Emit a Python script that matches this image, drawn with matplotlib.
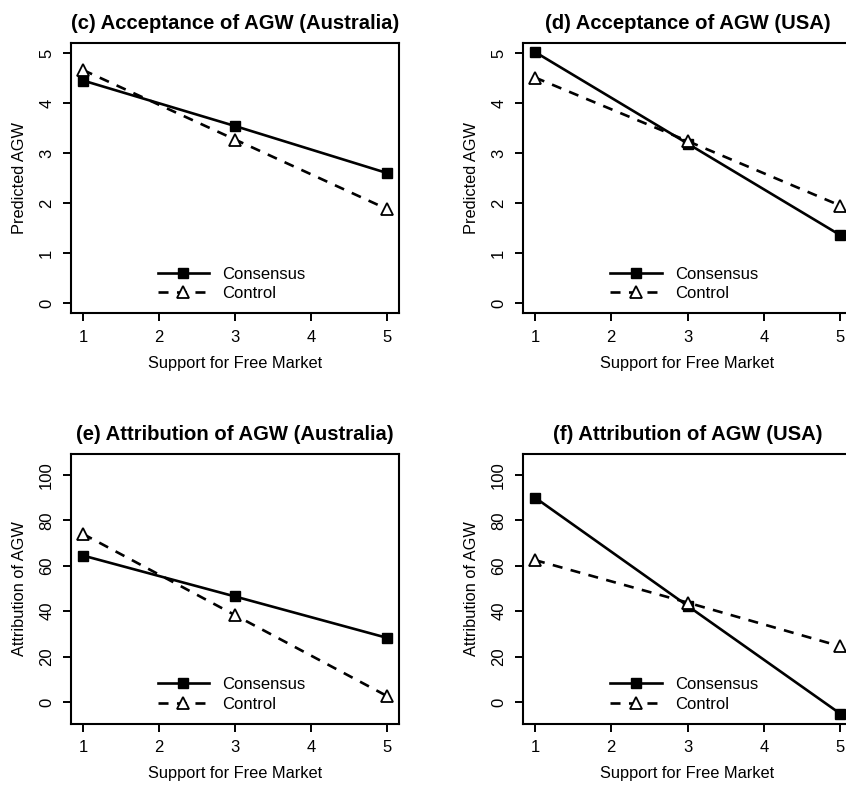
import matplotlib
matplotlib.use("Agg")
import matplotlib.pyplot as plt

plt.rcParams['font.family'] = ['Liberation Sans', 'DejaVu Sans']

x_vals = [1, 3, 5]
titles = ["(c) Acceptance of AGW (Australia)", "(d) Acceptance of AGW (USA)",
          "(e) Attribution of AGW (Australia)", "(f) Attribution of AGW (USA)"]
ylabels = ["Predicted AGW", "Predicted AGW", "Attribution of AGW", "Attribution of AGW"]
xlabel = "Support for Free Market"
series_names = ["Consensus", "Control"]

consensus_c = [4.45, 3.54, 2.60]
control_c = [4.66, 3.27, 1.88]
consensus_d = [5.02, 3.19, 1.36]
control_d = [4.51, 3.24, 1.95]
consensus_e = [64.5, 46.5, 28.3]
control_e = [74.0, 38.3, 2.7]
consensus_f = [90.0, 42.4, -5.0]
control_f = [62.5, 43.8, 24.6]

xticks = [1, 2, 3, 4, 5]
yticks_top = [0, 1, 2, 3, 4, 5]
yticks_bottom = [0, 20, 40, 60, 80, 100]

W, H = 846, 787
fig = plt.figure(figsize=(W / 100, H / 100), dpi=100)
fig.patch.set_facecolor('white')

def px_rect(left, top, right, bottom):
    return [left / W, (H - bottom) / H, (right - left) / W, (bottom - top) / H]

# axes boxes in pixels (left, top, right, bottom)
rects = [
    px_rect(70.8, 43, 399.1, 313),
    px_rect(522.8, 43, 852.2, 313),
    px_rect(70.8, 453.5, 399.1, 723.5),
    px_rect(522.8, 453.5, 852.2, 723.5),
]
data = [(consensus_c, control_c), (consensus_d, control_d),
        (consensus_e, control_e), (consensus_f, control_f)]
ylims = [(-0.2, 5.2), (-0.2, 5.2), (-9.4, 109.4), (-9.4, 109.4)]
yticks_list = [yticks_top, yticks_top, yticks_bottom, yticks_bottom]

for i in range(4):
    ax = fig.add_axes(rects[i])
    cons, ctrl = data[i]
    ax.plot(x_vals, cons, color='black', lw=1.9, marker='s', markersize=6.5,
            markerfacecolor='black', markeredgecolor='black', label=series_names[0])
    ax.plot(x_vals, ctrl, color='black', lw=1.9, linestyle=(0, (3.8, 3.2)), marker='^',
            markersize=8, markerfacecolor='white', markeredgecolor='black',
            markeredgewidth=1.3, label=series_names[1])
    ax.set_xlim(0.84, 5.16)
    ax.set_ylim(*ylims[i])
    ax.set_xticks(xticks)
    ax.set_yticks(yticks_list[i])
    ax.tick_params(axis='both', direction='out', length=6, width=1.4,
                   labelsize=12, colors='black')
    ax.tick_params(axis='x', pad=6)
    ax.tick_params(axis='y', pad=6, labelrotation=90)
    for lab in ax.get_yticklabels():
        lab.set_va('center')
    for sp in ax.spines.values():
        sp.set_linewidth(1.5)
    ax.set_title(titles[i], fontsize=14.6, fontweight='bold', pad=10)
    ax.set_xlabel(xlabel, fontsize=11.8, labelpad=8)
    ax.set_ylabel(ylabels[i], fontsize=11.8, labelpad=9)
    ax.legend(loc='lower center', bbox_to_anchor=(0.49, -0.012),
              frameon=False, fontsize=12, handlelength=3.1, numpoints=1,
              handletextpad=0.8, labelspacing=0.28)

fig.savefig("out.png", dpi=100)
